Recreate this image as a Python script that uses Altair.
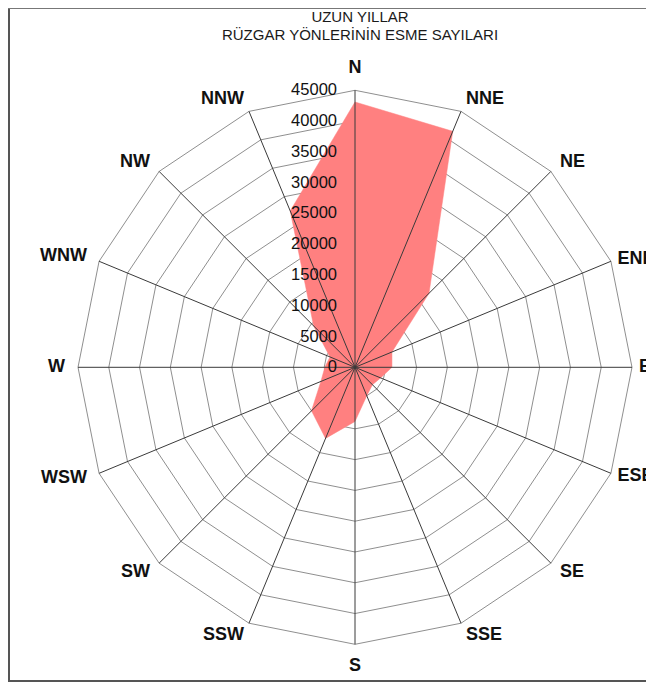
import altair as alt
import numpy as np
import pandas as pd

# ---- data ----
directions = ["N", "NNE", "NE", "ENE", "E", "ESE", "SE", "SSE",
              "S", "SSW", "SW", "WSW", "W", "WNW", "NW", "NNW"]
counts = [43100, 41500, 17000, 6500, 6000, 4500, 4000, 5000,
          8800, 12500, 10000, 6000, 4900, 4400, 9500, 27500]
ticks = [0, 5000, 10000, 15000, 20000, 25000, 30000, 35000, 40000, 45000]
title_lines = ["UZUN YILLAR", "RÜZGAR YÖNLERİNİN ESME SAYILARI"]

# ---- layout ----
W, H = 638, 674
MAXV = 45000
RPX = 277.0                 # pixel radius of the outer ring
k = MAXV / RPX              # data units per pixel
CX, CY = 347.0, 359.3       # centre inside the view (pixels)

ang = np.deg2rad(np.arange(len(directions)) * 22.5)
sx, sy = np.sin(ang), np.cos(ang)
# labels sit a little outside the outer ring; the ones at the right edge are
# pulled in slightly so they stay readable inside the page
label_r = np.where(sx > 0.9, 284.0, 290.0) * k

poly_df = pd.DataFrame({"dir": directions, "i": range(len(directions)),
                        "x": np.array(counts) * sx, "y": np.array(counts) * sy})

ring_rows = []
for lv in ticks[1:]:
    for i in range(len(directions)):
        ring_rows.append({"level": lv, "i": i, "x": lv * sx[i], "y": lv * sy[i]})
ring_df = pd.DataFrame(ring_rows)

spoke_df = pd.DataFrame({"x0": 0.0, "y0": 0.0, "x2": MAXV * sx, "y2": MAXV * sy})

lab_df = pd.DataFrame({"dir": directions, "x": label_r * sx, "y": label_r * sy,
                       "s": np.round(sx, 3), "c": np.round(sy, 3)})

tick_df = pd.DataFrame({"v": ticks, "x": 0.0, "t": [str(t) for t in ticks]})

xs = alt.Scale(domain=[-CX * k, (W - CX) * k], nice=False, zero=False)
ys = alt.Scale(domain=[-(H - CY) * k, CY * k], nice=False, zero=False)
X = alt.X("x:Q", scale=xs, axis=None)
Y = alt.Y("y:Q", scale=ys, axis=None)

rings = alt.Chart(ring_df).mark_line(
    interpolate="linear-closed", color="#8f8f8f", strokeWidth=1
).encode(x=X, y=Y, detail="level:N", order="i:Q")

fill = alt.Chart(poly_df).mark_line(
    interpolate="linear-closed", fill="#ff8080", stroke="#ff8080", strokeWidth=0.5
).encode(x=X, y=Y, order="i:Q")

spokes = alt.Chart(spoke_df).mark_rule(color="#3a3a3a", strokeWidth=1).encode(
    x=alt.X("x0:Q", scale=xs, axis=None), y=alt.Y("y0:Q", scale=ys, axis=None),
    x2="x2:Q", y2="y2:Q")

tick_labels = alt.Chart(tick_df).mark_text(
    align="right", baseline="middle", dx=-18, font="Liberation Sans",
    fontSize=16.5, color="#111111"
).encode(x=X, y=alt.Y("v:Q", scale=ys, axis=None), text="t:N")

lab_font = dict(font="Liberation Sans", fontSize=18, fontWeight="bold", color="#111111")
lab_top = alt.Chart(lab_df).transform_filter("datum.s == 0 && datum.c > 0").mark_text(
    align="center", baseline="bottom", **lab_font).encode(x=X, y=Y, text="dir:N")
lab_bot = alt.Chart(lab_df).transform_filter("datum.s == 0 && datum.c < 0").mark_text(
    align="center", baseline="top", **lab_font).encode(x=X, y=Y, text="dir:N")
lab_right = alt.Chart(lab_df).transform_filter("datum.s > 0").mark_text(
    align="left", baseline="middle", **lab_font).encode(x=X, y=Y, text="dir:N")
lab_left = alt.Chart(lab_df).transform_filter("datum.s < 0").mark_text(
    align="right", baseline="middle", **lab_font).encode(x=X, y=Y, text="dir:N")

title_df = pd.DataFrame({"t": title_lines, "row": [0, 1]})
title1 = alt.Chart(title_df).transform_filter("datum.row == 0").mark_text(
    align="center", baseline="middle", font="Liberation Sans", fontSize=15, color="#1a1a1a"
).encode(x=alt.value(352), y=alt.value(9), text="t:N")
title2 = alt.Chart(title_df).transform_filter("datum.row == 1").mark_text(
    align="center", baseline="middle", font="Liberation Sans", fontSize=15, color="#1a1a1a"
).encode(x=alt.value(352), y=alt.value(27), text="t:N")

frame_df = pd.DataFrame({"a": [0]})
frame_left = alt.Chart(frame_df).mark_rule(color="#555555", strokeWidth=2).encode(
    x=alt.value(1), y=alt.value(0), y2=alt.value(H - 1))
frame_top = alt.Chart(frame_df).mark_rule(color="#777777", strokeWidth=1).encode(
    x=alt.value(0), x2=alt.value(W), y=alt.value(0.5))
frame_bottom = alt.Chart(frame_df).mark_rule(color="#555555", strokeWidth=2).encode(
    x=alt.value(0), x2=alt.value(W), y=alt.value(H - 1))

chart = alt.layer(
    rings, fill, spokes, tick_labels, lab_top, lab_bot, lab_right, lab_left,
    title1, title2, frame_left, frame_top, frame_bottom
).properties(
    width=W, height=H, padding=0,
    autosize=alt.AutoSizeParams(type="none")
).configure_view(stroke=None, strokeWidth=0)

chart.save("out.html", embed_options={"renderer": "svg", "actions": False})
